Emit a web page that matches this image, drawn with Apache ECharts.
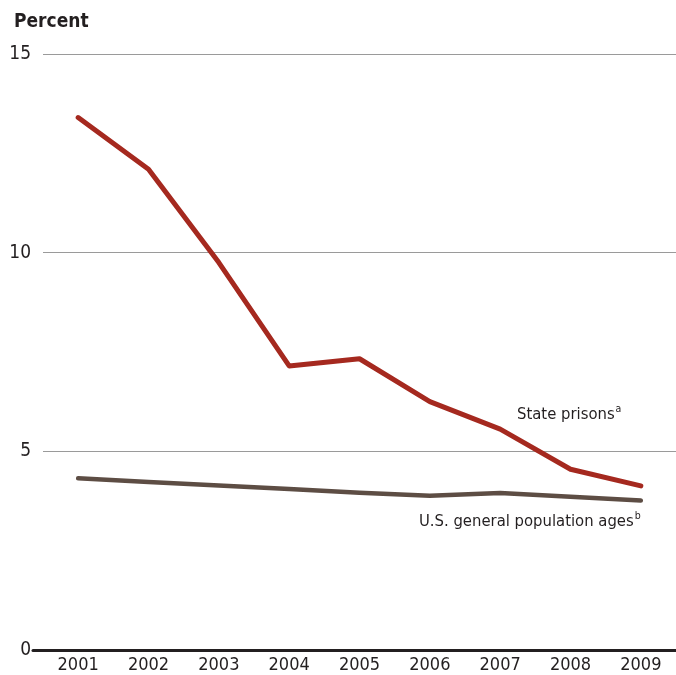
<!DOCTYPE html>
<html><head><meta charset="utf-8">
<script src="https://cdn.jsdelivr.net/npm/echarts@6/dist/echarts.min.js"></script>
<style>html,body{margin:0;padding:0;background:#fff}#c{width:676px;height:675px}</style>
</head><body><div id="c"></div>
<script>
var years = ['2001','2002','2003','2004','2005','2006','2007','2008','2009'];
var statePrisons = [13.4, 12.1, 9.75, 7.15, 7.33, 6.25, 5.56, 4.55, 4.13];
var generalPop = [4.32, 4.23, 4.14, 4.05, 3.96, 3.88, 3.95, 3.86, 3.76];
var yTicks = [0, 5, 10, 15];

var FONT = '"Liberation Sans Narrow","DejaVu Sans Condensed","Roboto Condensed",sans-serif';
var TXT = '#231f20';
var chart = echarts.init(document.getElementById('c'));
chart.setOption({
  animation: false,
  backgroundColor: '#fff',
  title: {text: 'Percent', left: 9, top: 8,
    textStyle: {fontFamily: FONT, fontWeight: 'bold', fontSize: 19, color: TXT}},
  grid: [
    {left: 43, right: -5, top: 54, bottom: 25},
    {left: 33, right: -5, top: 54, bottom: 25}
  ],
  xAxis: [
    {type: 'category', data: years, boundaryGap: true, gridIndex: 0,
     axisLine: {show: false}, axisTick: {show: false},
     axisLabel: {fontFamily: FONT, fontSize: 18, color: TXT, margin: 6}},
    {type: 'value', gridIndex: 1, min: 0, max: 1,
     axisLine: {show: true, lineStyle: {color: TXT, width: 3}},
     axisTick: {show: false}, axisLabel: {show: false}, splitLine: {show: false}}
  ],
  yAxis: [
    {type: 'value', min: yTicks[0], max: yTicks[yTicks.length-1], interval: 5, gridIndex: 0,
     axisLine: {show: false}, axisTick: {show: false},
     axisLabel: {fontFamily: FONT, fontSize: 19, color: TXT, margin: 12},
     splitLine: {lineStyle: {color: '#9a9a9a', width: 1.2}}},
    {type: 'value', gridIndex: 1, min: 0, max: 1, show: false}
  ],
  graphic: [
    {type: 'text', left: 517, top: 404, style: {
      text: '{n|State prisons}{s|a}', fill: TXT,
      rich: {n: {fontFamily: FONT, fontSize: 16.5, fill: TXT, verticalAlign: 'bottom'},
             s: {fontFamily: FONT, fontSize: 10.5, fill: TXT, verticalAlign: 'top', padding: [0,0,8,1]}}}},
    {type: 'text', left: 419, top: 511, style: {
      text: '{n|U.S. general population ages}{s|b}', fill: TXT,
      rich: {n: {fontFamily: FONT, fontSize: 16.5, fill: TXT, verticalAlign: 'bottom'},
             s: {fontFamily: FONT, fontSize: 10.5, fill: TXT, verticalAlign: 'top', padding: [0,0,8,1]}}}}
  ],
  series: [
    {name: 'State prisons', type: 'line', data: statePrisons, xAxisIndex: 0, yAxisIndex: 0,
     symbol: 'none', lineStyle: {color: '#a5291f', width: 5, cap: 'round', join: 'round'}, z: 3},
    {name: 'U.S. general population', type: 'line', data: generalPop, xAxisIndex: 0, yAxisIndex: 0,
     symbol: 'none', lineStyle: {color: '#5d4d44', width: 4.5, cap: 'round', join: 'round'}, z: 2}
  ]
});
</script></body></html>
